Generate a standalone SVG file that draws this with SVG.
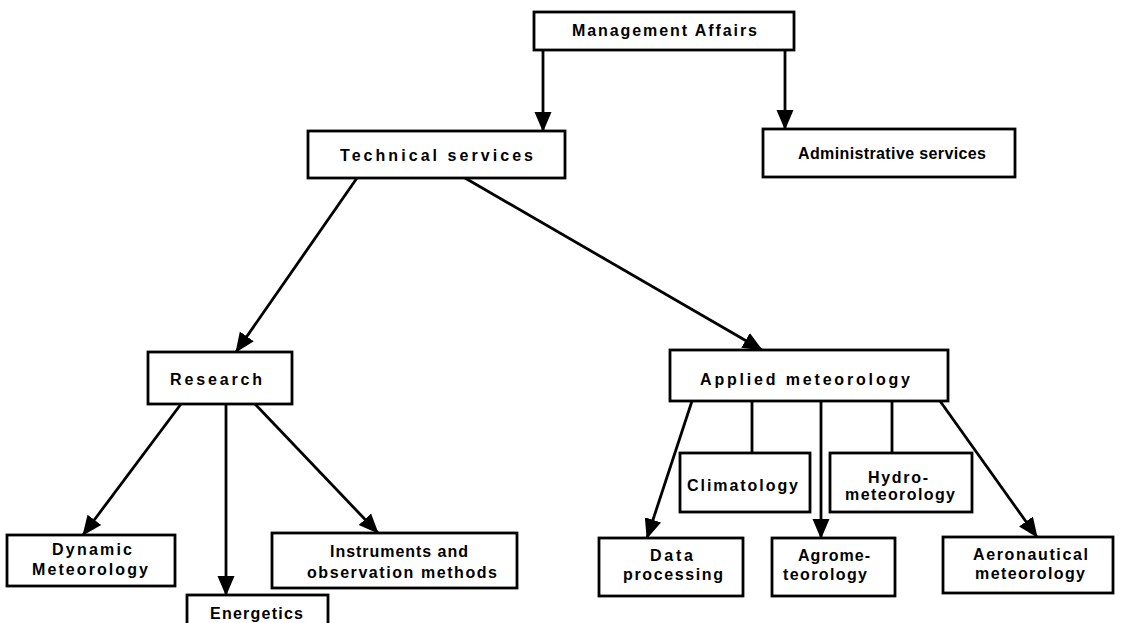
<svg xmlns="http://www.w3.org/2000/svg" width="1121" height="623" viewBox="0 0 1121 623">
<style>
.box{fill:#fff;stroke:#000;stroke-width:2.8}
.t{font-family:"Liberation Sans",Arial,sans-serif;font-weight:bold;font-size:16px;fill:#000}
.c{stroke:#000;stroke-width:2.8;fill:none}
.a{marker-end:url(#ah)}
</style>
<defs>
<marker id="ah" markerUnits="userSpaceOnUse" markerWidth="20" markerHeight="20" viewBox="0 0 20 20" refX="19" refY="10" orient="auto">
<path d="M0,1.5 L20,10 L0,18.5 Z" fill="#000"/>
</marker>
</defs>
<rect width="1121" height="623" fill="#fff"/>
<g id="connectors">
<line class="c a" x1="543" y1="50" x2="543" y2="131"/>
<line class="c a" x1="785" y1="50" x2="785" y2="129"/>
<line class="c a" x1="357" y1="178" x2="236" y2="352"/>
<line class="c a" x1="465" y1="178" x2="762" y2="350"/>
<line class="c a" x1="181" y1="404" x2="83" y2="535"/>
<line class="c a" x1="226" y1="404" x2="226" y2="595"/>
<line class="c a" x1="255" y1="404" x2="378" y2="533"/>
<line class="c a" x1="692" y1="401" x2="647" y2="538"/>
<line class="c" x1="752" y1="401" x2="752" y2="453"/>
<line class="c a" x1="821" y1="401" x2="821" y2="538"/>
<line class="c" x1="892" y1="401" x2="892" y2="453"/>
<line class="c a" x1="940" y1="401" x2="1037" y2="537"/>
</g>
<g id="management">
<rect class="box" x="534" y="12" width="260" height="38"/>
<text class="t" x="572" y="36" textLength="185" lengthAdjust="spacing">Management Affairs</text>
</g>
<g id="technical">
<rect class="box" x="308" y="131" width="257" height="47"/>
<text class="t" x="340" y="161" textLength="193" lengthAdjust="spacing">Technical services</text>
</g>
<g id="administrative">
<rect class="box" x="763" y="129" width="252" height="48"/>
<text class="t" x="798" y="159" textLength="188" lengthAdjust="spacing">Administrative services</text>
</g>
<g id="research">
<rect class="box" x="148" y="352" width="144" height="52"/>
<text class="t" x="170" y="385" textLength="92" lengthAdjust="spacing">Research</text>
</g>
<g id="applied">
<rect class="box" x="670" y="350" width="278" height="51"/>
<text class="t" x="700" y="385" textLength="210" lengthAdjust="spacing">Applied meteorology</text>
</g>
<g id="dynamic">
<rect class="box" x="7" y="535" width="168" height="51"/>
<text class="t" x="52" y="555" textLength="80" lengthAdjust="spacing">Dynamic</text>
<text class="t" x="32" y="575" textLength="116" lengthAdjust="spacing">Meteorology</text>
</g>
<g id="energetics">
<rect class="box" x="187" y="595" width="141" height="40"/>
<text class="t" x="210" y="619" textLength="93" lengthAdjust="spacing">Energetics</text>
</g>
<g id="instruments">
<rect class="box" x="272" y="533" width="245" height="55"/>
<text class="t" x="330" y="557" textLength="138" lengthAdjust="spacing">Instruments and</text>
<text class="t" x="307" y="578" textLength="190" lengthAdjust="spacing">observation methods</text>
</g>
<g id="climatology">
<rect class="box" x="680" y="453" width="130" height="59"/>
<text class="t" x="687" y="491" textLength="111" lengthAdjust="spacing">Climatology</text>
</g>
<g id="hydro">
<rect class="box" x="830" y="453" width="142" height="59"/>
<text class="t" x="868" y="483" textLength="60" lengthAdjust="spacing">Hydro-</text>
<text class="t" x="845" y="500" textLength="110" lengthAdjust="spacing">meteorology</text>
</g>
<g id="data">
<rect class="box" x="599" y="538" width="144" height="58"/>
<text class="t" x="650" y="561" textLength="43" lengthAdjust="spacing">Data</text>
<text class="t" x="623" y="580" textLength="100" lengthAdjust="spacing">processing</text>
</g>
<g id="agro">
<rect class="box" x="772" y="538" width="123" height="58"/>
<text class="t" x="798" y="561" textLength="72" lengthAdjust="spacing">Agrome-</text>
<text class="t" x="783" y="580" textLength="84" lengthAdjust="spacing">teorology</text>
</g>
<g id="aeronautical">
<rect class="box" x="943" y="537" width="170" height="56"/>
<text class="t" x="973" y="560" textLength="115" lengthAdjust="spacing">Aeronautical</text>
<text class="t" x="975" y="579" textLength="110" lengthAdjust="spacing">meteorology</text>
</g>
</svg>
